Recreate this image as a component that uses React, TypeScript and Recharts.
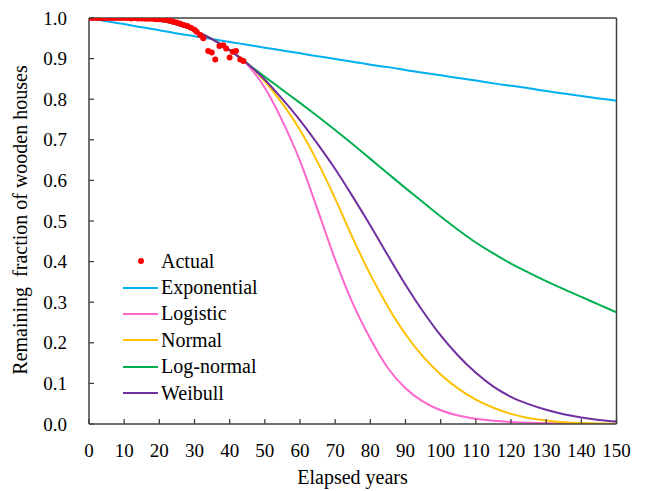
import React from "react";
import {
  ComposedChart,
  Line,
  Scatter,
  XAxis,
  YAxis,
  ReferenceLine,
} from "recharts";

const years = [0, 5, 10, 15, 20, 25, 30, 35, 40, 45, 50, 55, 60, 65, 70, 75, 80, 85, 90, 95, 100, 105, 110, 115, 120, 125, 130, 135, 140, 145, 150];

const exponential = [1.0, 0.992, 0.985, 0.977, 0.97, 0.962, 0.955, 0.948, 0.941, 0.934, 0.927, 0.92, 0.913, 0.906, 0.899, 0.892, 0.885, 0.879, 0.872, 0.865, 0.859, 0.852, 0.846, 0.839, 0.833, 0.827, 0.82, 0.814, 0.808, 0.802, 0.796];
const logistic = [1.0, 1.0, 0.999, 0.997, 0.993, 0.984, 0.969, 0.948, 0.921, 0.885, 0.828, 0.746, 0.648, 0.528, 0.405, 0.297, 0.21, 0.138, 0.088, 0.055, 0.034, 0.021, 0.013, 0.008, 0.005, 0.003, 0.002, 0.001, 0.001, 0.0, 0.0];
const normal = [1.0, 1.0, 0.999, 0.997, 0.993, 0.984, 0.969, 0.948, 0.921, 0.889, 0.844, 0.789, 0.724, 0.645, 0.555, 0.458, 0.368, 0.289, 0.221, 0.166, 0.122, 0.087, 0.06, 0.04, 0.025, 0.015, 0.0085, 0.0045, 0.0025, 0.0012, 0.0005];
const logNormal = [1.0, 1.0, 0.999, 0.997, 0.993, 0.984, 0.969, 0.948, 0.921, 0.888, 0.855, 0.823, 0.791, 0.758, 0.724, 0.689, 0.653, 0.617, 0.581, 0.546, 0.511, 0.478, 0.447, 0.42, 0.395, 0.373, 0.352, 0.332, 0.313, 0.294, 0.275];
const weibull = [1.0, 1.0, 0.999, 0.997, 0.993, 0.984, 0.969, 0.948, 0.921, 0.888, 0.848, 0.8, 0.748, 0.69, 0.628, 0.56, 0.489, 0.415, 0.343, 0.277, 0.218, 0.168, 0.126, 0.092, 0.067, 0.049, 0.035, 0.024, 0.016, 0.01, 0.006];

const actualYears = [0, 1, 2, 3, 4, 5, 6, 7, 8, 9, 10, 11, 12, 13, 14, 15, 16, 17, 18, 19, 20, 21, 22, 23, 24, 25, 26, 27, 28, 29, 30, 30.6, 31.6, 32.5, 33.9, 34.9, 35.9, 37.1, 38.2, 39, 40, 40.9, 41.8, 43, 43.9];
const actualValues = [1.0, 1.0, 1.0, 1.0, 1.0, 1.0, 1.0, 1.0, 1.0, 1.0, 1.0, 1.0, 0.999, 1.0, 0.999, 0.999, 0.998, 0.998, 0.998, 0.997, 0.997, 0.996, 0.995, 0.993, 0.991, 0.989, 0.986, 0.983, 0.98, 0.976, 0.971, 0.966, 0.958, 0.95, 0.919, 0.915, 0.898, 0.931, 0.933, 0.925, 0.903, 0.917, 0.919, 0.898, 0.894];

const xTicks = [0, 10, 20, 30, 40, 50, 60, 70, 80, 90, 100, 110, 120, 130, 140, 150];
const yTicks = [0, 0.1, 0.2, 0.3, 0.4, 0.5, 0.6, 0.7, 0.8, 0.9, 1.0];

const FONT = "'Liberation Serif', 'Times New Roman', serif";
const AXIS_COLOR = "#404040";

const series = [
  { name: "Exponential", values: exponential, color: "#00B0F0" },
  { name: "Logistic", values: logistic, color: "#FF66CC" },
  { name: "Normal", values: normal, color: "#FFC000" },
  { name: "Log-normal", values: logNormal, color: "#00B050" },
  { name: "Weibull", values: weibull, color: "#7030A0" },
];

const toPoints = (xs: number[], vs: number[]) => xs.map((x, i) => ({ x, v: vs[i] }));

const textStyle = { fontFamily: FONT, fill: "#000" } as React.CSSProperties;

const XTick = (props: any) => {
  const { x, y, payload } = props;
  return (
    <g>
      <line x1={x} y1={y} x2={x} y2={y - 5} stroke={AXIS_COLOR} strokeWidth={1.3} />
      <text x={x} y={y + 26} textAnchor="middle" dominantBaseline="central" fontSize={19} style={textStyle}>
        {payload.value}
      </text>
    </g>
  );
};

const YTick = (props: any) => {
  const { x, y, payload } = props;
  return (
    <g>
      <line x1={x} y1={y} x2={x + 5} y2={y} stroke={AXIS_COLOR} strokeWidth={1.3} />
      <text x={x - 22} y={y} textAnchor="end" dominantBaseline="central" fontSize={19} style={textStyle}>
        {Number(payload.value).toFixed(1)}
      </text>
    </g>
  );
};

const LegendBox = () => (
  <div style={{ fontFamily: FONT, fontSize: 20, color: "#000" }}>
    <div style={{ display: "flex", alignItems: "center", height: 26.4 }}>
      <div style={{ width: 35, display: "flex", justifyContent: "center" }}>
        <div style={{ width: 6, height: 6, borderRadius: 3, background: "#FF0000" }} />
      </div>
      <span style={{ marginLeft: 3 }}>Actual</span>
    </div>
    {series.map((s) => (
      <div key={s.name} style={{ display: "flex", alignItems: "center", height: 26.4 }}>
        <div style={{ width: 35, height: 2, background: s.color }} />
        <span style={{ marginLeft: 3 }}>{s.name}</span>
      </div>
    ))}
  </div>
);

export default function App() {
  const actual = toPoints(actualYears, actualValues);
  return (
    <div style={{ position: "relative", width: 638, height: 483 }}>
      <ComposedChart width={638} height={483} margin={{ top: 10, right: 29.5, bottom: 0, left: 10 }}>
        <XAxis
          type="number"
          dataKey="x"
          domain={[0, 150]}
          ticks={xTicks}
          interval={0}
          tickSize={0}
          tickMargin={0}
          tick={<XTick />}
          height={67}
          stroke={AXIS_COLOR}
          strokeWidth={1.5}
          allowDataOverflow
          label={{
            content: () => (
              <text x={344.5} y={469} textAnchor="middle" dominantBaseline="central" fontSize={20} style={textStyle}>
                Elapsed years
              </text>
            ),
          }}
        />
        <YAxis
          type="number"
          dataKey="v"
          domain={[0, 1]}
          ticks={yTicks}
          interval={0}
          tickSize={0}
          tickMargin={0}
          tick={<YTick />}
          width={71}
          stroke={AXIS_COLOR}
          strokeWidth={1.5}
          allowDataOverflow
          label={{
            content: () => (
              <text
                x={12}
                y={212}
                transform="rotate(-90 12 212)"
                textAnchor="middle"
                dominantBaseline="central"
                fontSize={20}
                style={{ ...textStyle, whiteSpace: "pre" }}
              >
                {"Remaining  fraction of wooden houses"}
              </text>
            ),
          }}
        />
        <ReferenceLine y={1} stroke={AXIS_COLOR} strokeWidth={1.5} ifOverflow="visible" />
        <ReferenceLine x={150} stroke={AXIS_COLOR} strokeWidth={1.5} ifOverflow="visible" />
        {series.map((s) => (
          <Line
            key={s.name}
            data={toPoints(years, s.values)}
            dataKey="v"
            type="monotone"
            stroke={s.color}
            strokeWidth={2}
            dot={false}
            activeDot={false}
            isAnimationActive={false}
          />
        ))}
        <Scatter
          data={actual}
          dataKey="v"
          isAnimationActive={false}
          shape={(p: any) => <circle cx={p.cx} cy={p.cy} r={3} fill="#FF0000" />}
        />
      </ComposedChart>
      <div style={{ position: "absolute", left: 115, top: 240 }}>
        <LegendBox />
      </div>
    </div>
  );
}
